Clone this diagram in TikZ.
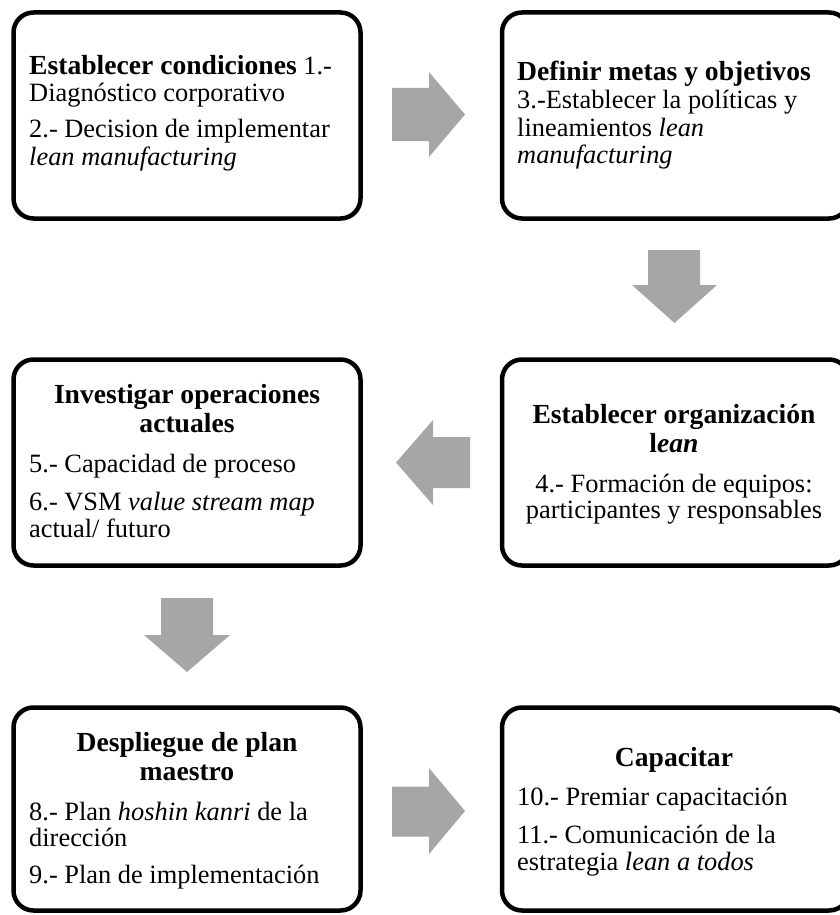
\documentclass[tikz,border=0pt]{standalone}
\usepackage{fontspec}
\setmainfont{Liberation Serif}
\newcommand\ttlfont{\fontsize{27.6}{28.6}\selectfont\bfseries}
\definecolor{arrowgray}{HTML}{A6A6A6}
\begin{document}
\begin{tikzpicture}[x=1pt,y=-1pt,
  stepbox/.style={draw=black,line width=4.5pt,rounded corners=20pt,fill=white,
    inner sep=0pt,minimum width=347pt},
  blockarrow/.style={fill=arrowgray,draw=none},
  bodyw/.style={inner sep=0pt,anchor=base west,font=\fontsize{26.4}{27}\selectfont},
  bodyc/.style={inner sep=0pt,anchor=base,font=\fontsize{26.4}{27}\selectfont},
  ttlc/.style={inner sep=0pt,anchor=base,font=\ttlfont},
  ttlw/.style={inner sep=0pt,anchor=base west,font=\ttlfont}]
\useasboundingbox (0,0) rectangle (840,915);

% step boxes
\node[stepbox,minimum height=206pt] (b1) at (187,115.5) {};
\node[stepbox,minimum height=206pt] (b2) at (675.5,115.5) {};
\node[stepbox,minimum height=206pt] (b3) at (187,462.5) {};
\node[stepbox,minimum height=206pt] (b4) at (675.5,462.5) {};
\node[stepbox,minimum height=203pt] (b5) at (187,809) {};
\node[stepbox,minimum height=203pt] (b6) at (675.5,809) {};

% block arrows between the steps
\fill[blockarrow] (392,88) -- (429,88) -- (429,72) -- (465,114.5) -- (429,157) -- (429,141) -- (392,141) -- cycle;
\fill[blockarrow] (648,250) -- (700,250) -- (700,285) -- (717,285) -- (674.5,323) -- (632,285) -- (648,285) -- cycle;
\fill[blockarrow] (470,437) -- (433,437) -- (433,420) -- (396,462.5) -- (433,505) -- (433,488) -- (470,488) -- cycle;
\fill[blockarrow] (161,598) -- (213,598) -- (213,635) -- (230,635) -- (187,672) -- (144,635) -- (161,635) -- cycle;
\fill[blockarrow] (392,786.5) -- (429,786.5) -- (429,768) -- (465,811) -- (429,854) -- (429,836.5) -- (392,836.5) -- cycle;

% step 1
\node[bodyw] (t1a) at (29,75) {{\ttlfont Establecer condiciones} 1.-};
\node[bodyw] (t1b) at (29,101.7) {Diagnóstico corporativo};
\node[bodyw] (t1c) at (29,138) {2.- Decision de implementar};
\node[bodyw] (t1d) at (29,165) {\textit{lean manufacturing}};

% step 2
\node[ttlw] (t2a) at (517,81) {Definir metas y objetivos};
\node[bodyw] (t2b) at (517,109) {3.-Establecer la políticas y};
\node[bodyw] (t2c) at (517,136.7) {lineamientos \textit{lean}};
\node[bodyw] (t2d) at (517,163.3) {\textit{manufacturing}};

% step 3
\node[ttlc] (t3a) at (187,403) {Investigar operaciones};
\node[ttlc] (t3b) at (187,432) {actuales};
\node[bodyw] (t3c) at (29,472) {5.- Capacidad de proceso};
\node[bodyw] (t3d) at (29,510) {6.- VSM \textit{value stream map}};
\node[bodyw] (t3e) at (29,537) {actual/ futuro};

% step 4
\node[ttlc] (t4a) at (674,423) {Establecer organización};
\node[ttlc] (t4b) at (674,452) {l\textit{ean}};
\node[bodyc] (t4c) at (674,492) {4.- Formación de equipos:};
\node[bodyc] (t4d) at (674,518) {participantes y responsables};

% step 5
\node[ttlc] (t5a) at (187,751.7) {Despliegue de plan};
\node[ttlc] (t5b) at (187,780) {maestro};
\node[bodyw] (t5c) at (29,820) {8.- Plan \textit{hoshin kanri} de la};
\node[bodyw] (t5d) at (29,846.7) {dirección};
\node[bodyw] (t5e) at (29,883) {9.- Plan de implementación};

% step 6
\node[ttlc] (t6a) at (674,766.7) {Capacitar};
\node[bodyw] (t6b) at (517,805) {10.- Premiar capacitación};
\node[bodyw] (t6c) at (517,843) {11.- Comunicación de la};
\node[bodyw] (t6d) at (517,870) {estrategia \textit{lean a todos}};
\end{tikzpicture}
\end{document}
